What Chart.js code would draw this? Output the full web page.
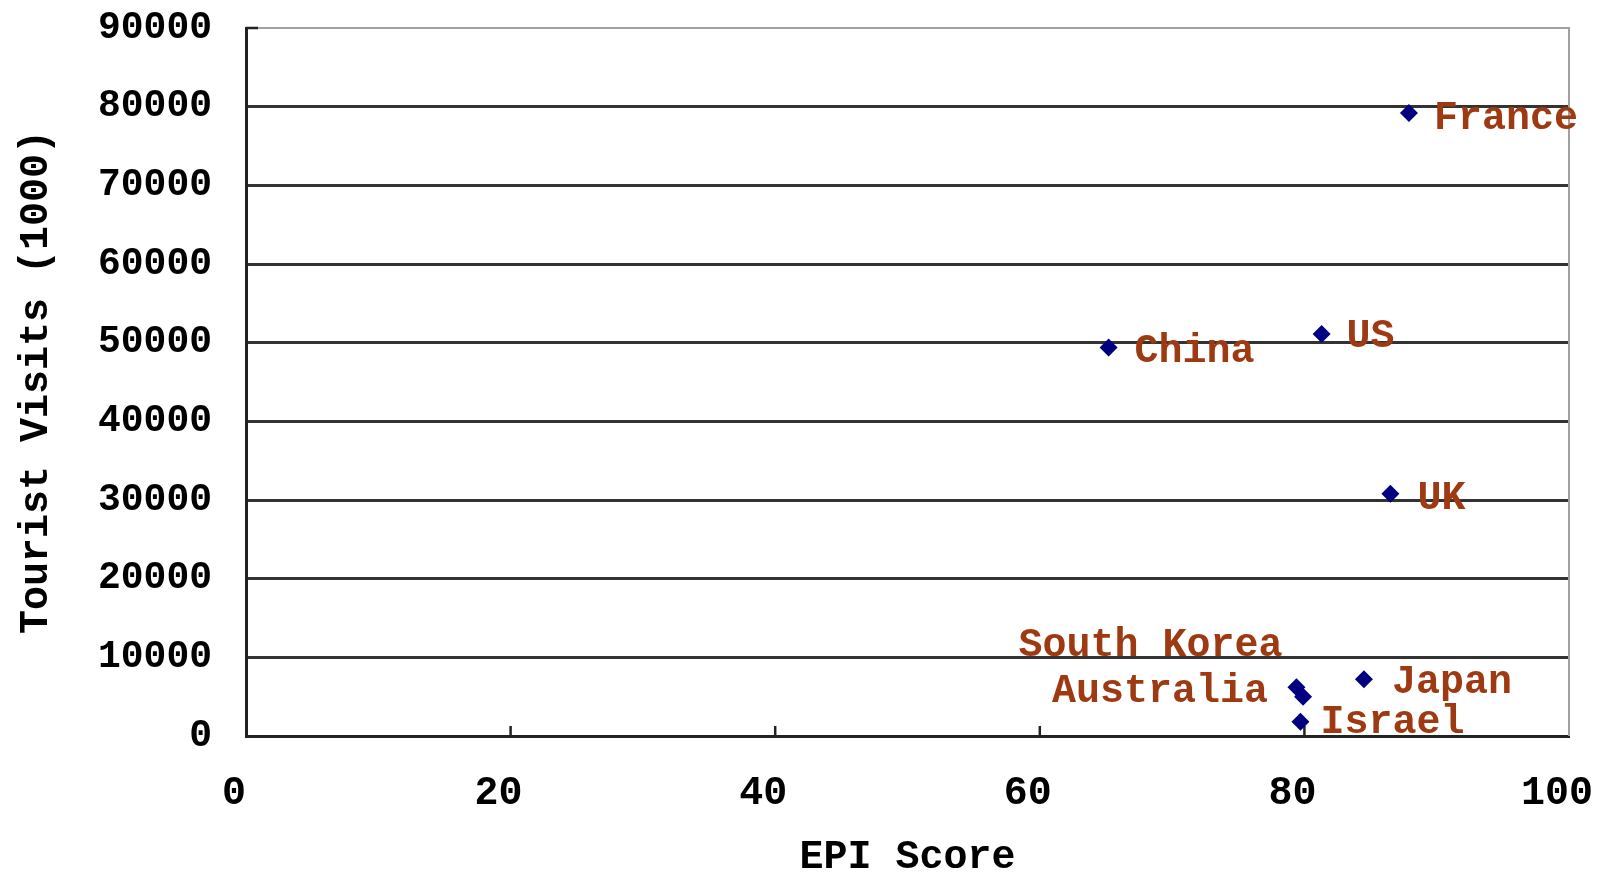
<!DOCTYPE html>
<html>
<head>
<meta charset="utf-8">
<script src="https://cdn.jsdelivr.net/npm/chart.js@4"></script>
<style>
  html, body { margin: 0; padding: 0; background: #fff; }
  #chart-container { width: 1608px; height: 879px; }
</style>
</head>
<body>
<div id="chart-container"><canvas id="myChart"></canvas></div>
<script>
//--------------------- Data

//Country names, EPI score (x) and tourist visits in thousands (y)
var countries = ["France", "US", "China", "UK", "Japan", "South Korea", "Australia", "Israel"]
var epiScores = [87.9, 81.3, 65.2, 86.5, 84.5, 79.4, 79.9, 79.7]
var touristVisits = [79200, 51100, 49400, 30800, 7200, 6200, 5000, 1800]

//Axis tick values
var xTicks = [0, 20, 40, 60, 80, 100]
var yTicks = [0, 10000, 20000, 30000, 40000, 50000, 60000, 70000, 80000, 90000]

//Where each data label sits next to its point (side, dx, dy)
var labelPlacement = {
    "France": ["left", 25, 6],
    "US": ["left", 25, 3],
    "China": ["left", 26, 5],
    "UK": ["left", 27, 5],
    "Japan": ["left", 28, 4],
    "South Korea": ["right", -14, -41],
    "Australia": ["right", -35, -5],
    "Israel": ["left", 20, 1]
}

var fontFamily = "'Liberation Mono', 'DejaVu Sans Mono', monospace"
var labelColor = "#9e3a12"

// ------------------- Plugins

//Draws the grey plot border, the short inward x ticks and the top stub
var frameLines = {
    id: "frameLines",
    beforeDatasetsDraw: function (chart) {
        var ctx = chart.ctx
        var area = chart.chartArea
        var xScale = chart.scales.x
        ctx.save()
        ctx.strokeStyle = "#a0a0a0"
        ctx.lineWidth = 2
        ctx.beginPath()
        ctx.moveTo(area.left, area.top)
        ctx.lineTo(area.right, area.top)
        ctx.lineTo(area.right, area.bottom)
        ctx.stroke()

        ctx.strokeStyle = "#222"
        ctx.lineWidth = 2.5
        ctx.beginPath()
        for (var i = 1; i < xTicks.length - 1; i++)
        {
            var px = xScale.getPixelForValue(xTicks[i])
            ctx.moveTo(px, area.bottom)
            ctx.lineTo(px, area.bottom - 10)
        }
        ctx.moveTo(area.left, area.top)
        ctx.lineTo(area.left + 12, area.top)
        ctx.stroke()
        ctx.restore()
    }
}

//Writes the country name next to every point
var pointLabels = {
    id: "pointLabels",
    afterDatasetsDraw: function (chart) {
        var ctx = chart.ctx
        var points = chart.getDatasetMeta(0).data
        ctx.save()
        ctx.font = "bold 40px " + fontFamily
        ctx.fillStyle = labelColor
        ctx.textBaseline = "middle"
        for (var i = 0; i < points.length; i++)
        {
            var place = labelPlacement[countries[i]]
            ctx.textAlign = place[0]
            ctx.fillText(countries[i], points[i].x + place[1], points[i].y + place[2])
        }
        ctx.restore()
    }
}

//Stops the tick label overflow from pushing the plot area inwards
function noOverflow (axis) {
    axis.paddingTop = 0
    axis.paddingBottom = 0
    axis.paddingLeft = 0
    axis.paddingRight = 0
}

// ------------------- Chart

function buildPoints () {
    var pts = []
    for (var i = 0; i < countries.length; i++)
    {
        pts.push({x: epiScores[i], y: touristVisits[i]})
    }
    return pts
}

const ctx = document.getElementById("myChart")
const myChart = new Chart(ctx, {
    type: "scatter",
    data: {
        datasets: [{
            data: buildPoints(),
            pointStyle: "rectRot",
            pointRadius: 9,
            pointHoverRadius: 9,
            backgroundColor: "#000080",
            borderColor: "#000080",
            borderWidth: 0
        }]
    },
    options: {
        animation: false,
        responsive: true,
        maintainAspectRatio: false,
        layout: {
            padding: {left: 0, top: 28, right: 39, bottom: 0}
        },
        scales: {
            x: {
                type: "linear",
                min: 0,
                max: 100,
                afterBuildTicks: function (axis) {
                    axis.ticks = xTicks.map(function (v) { return {value: v} })
                },
                afterFit: function (axis) { axis.height = 143; noOverflow(axis) },
                grid: { display: false, drawTicks: false },
                border: { display: true, color: "#222", width: 3 },
                ticks: {
                    padding: 34,
                    color: "#000",
                    maxRotation: 0,
                    font: { family: fontFamily, size: 40, weight: "bold" },
                    //trailing space nudges the labels a little left, like the original
                    callback: function (value) { return value + " " }
                },
                title: {
                    display: true,
                    text: "EPI Score",
                    color: "#000",
                    padding: {top: 0, bottom: -3},
                    font: { family: fontFamily, size: 40, weight: "bold" }
                }
            },
            y: {
                type: "linear",
                min: 0,
                max: 90000,
                afterBuildTicks: function (axis) {
                    axis.ticks = yTicks.map(function (v) { return {value: v} })
                },
                afterFit: function (axis) { axis.width = 246; noOverflow(axis) },
                grid: {
                    drawTicks: false,
                    lineWidth: 3,
                    color: function (c) {
                        if (c.tick && (c.tick.value === 90000 || c.tick.value === 0)) return "rgba(0,0,0,0)"
                        return "#333"
                    }
                },
                border: { display: true, color: "#222", width: 3 },
                ticks: {
                    padding: 34,
                    color: "#000",
                    font: { family: fontFamily, size: 38, weight: "bold" },
                    callback: function (value) { return String(value) }
                },
                title: {
                    display: true,
                    text: "Tourist Visits (1000)",
                    color: "#000",
                    padding: {top: 13, bottom: 0},
                    font: { family: fontFamily, size: 40, weight: "bold" }
                }
            }
        },
        plugins: {
            legend: { display: false },
            tooltip: { enabled: false },
            title: { display: false }
        }
    },
    plugins: [frameLines, pointLabels]
})
</script>
</body>
</html>
